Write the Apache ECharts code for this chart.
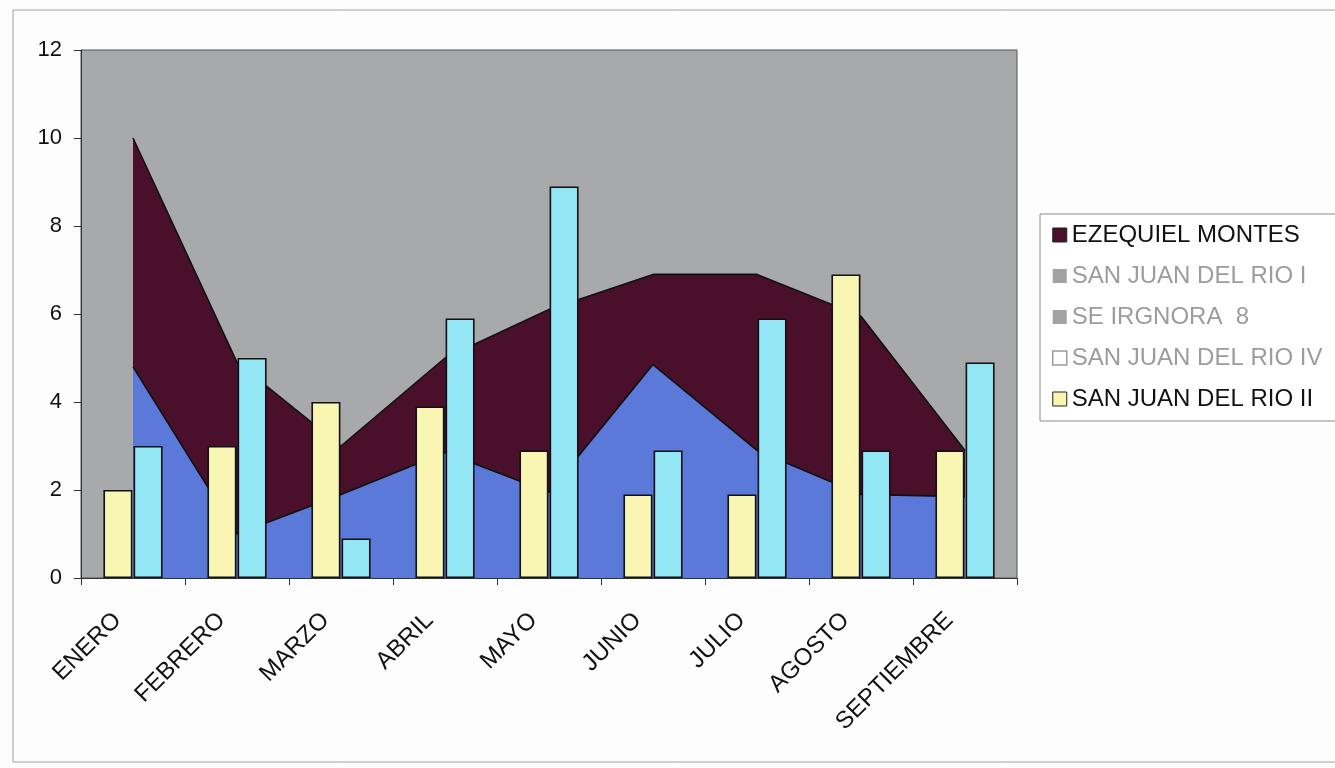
<!DOCTYPE html>
<html>
<head>
<meta charset="utf-8">
<script src="https://cdn.jsdelivr.net/npm/echarts@6/dist/echarts.min.js"></script>
<style>
html,body{margin:0;padding:0;background:#fdfdfd;}
#chart{width:1335px;height:768px;}
</style>
</head>
<body>
<div id="chart"></div>
<script>
var categories = ['ENERO','FEBRERO','MARZO','ABRIL','MAYO','JUNIO','JULIO','AGOSTO','SEPTIEMBRE'];
var ezequielMontes = [10, 4.9, 3.0, 5.0, 6.1, 6.9, 6.9, 5.95, 2.9];
var sanJuanI = [4.8, 1.0, 1.9, 2.85, 1.95, 4.85, 2.9, 1.9, 1.85];
var seIgnora8 = [];
var sanJuanIV = [3, 5, 0.9, 5.9, 8.9, 2.9, 5.9, 2.9, 4.9];
var sanJuanII = [2, 3, 4, 3.9, 2.9, 1.9, 1.9, 6.9, 2.9];
var yTicks = {min: 0, max: 12, interval: 2};

var FONT = '"Liberation Sans", Arial, sans-serif';
var chart = echarts.init(document.getElementById('chart'), null, {renderer: 'canvas'});
chart.setOption({
  backgroundColor: '#fdfdfd',
  animation: false,
  textStyle: {fontFamily: FONT},
  graphic: [
    {type: 'rect', z: -10, shape: {x: 13, y: 10, width: 1400, height: 752},
     style: {fill: 'none', stroke: '#a0a0a0', lineWidth: 1}},
    {type: 'rect', z: -5, shape: {x: 1040, y: 214, width: 400, height: 207},
     style: {fill: '#ffffff', stroke: '#8a8a8a', lineWidth: 1}}
  ],
  grid: {
    left: 81, right: 318, top: 50, bottom: 190,
    show: true, backgroundColor: '#a7a9ab', borderColor: '#555', borderWidth: 1
  },
  legend: {
    orient: 'vertical', left: 1047, top: 218,
    icon: 'rect', itemWidth: 14, itemHeight: 14, itemGap: 17,
    textStyle: {fontSize: 24, lineHeight: 24, fontFamily: FONT, color: '#111'},
    data: [
      {name: 'EZEQUIEL MONTES', itemStyle: {color: '#4a0f2a', borderColor: '#222', borderWidth: 1}, textStyle: {color: '#111'}},
      {name: 'SAN JUAN DEL RIO I', itemStyle: {color: '#a2a2a2', borderWidth: 0}, textStyle: {color: '#9c9c9c'}},
      {name: 'SE IRGNORA  8', itemStyle: {color: '#a2a2a2', borderWidth: 0}, textStyle: {color: '#9c9c9c'}},
      {name: 'SAN JUAN DEL RIO IV', itemStyle: {color: '#ffffff', borderColor: '#9c9c9c', borderWidth: 1.5}, textStyle: {color: '#9c9c9c'}},
      {name: 'SAN JUAN DEL RIO II', itemStyle: {color: '#f9f5b2', borderColor: '#222', borderWidth: 1}, textStyle: {color: '#111'}}
    ]
  },
  xAxis: {
    type: 'category', data: categories, boundaryGap: true,
    axisLine: {show: true, lineStyle: {color: '#333', width: 1}},
    axisTick: {show: true, length: 7, lineStyle: {color: '#333'}},
    axisLabel: {rotate: 45, fontSize: 24, color: '#111', margin: 23, padding: [0, 22, 0, 0], interval: 0, fontFamily: FONT},
    splitLine: {show: false}
  },
  yAxis: {
    type: 'value', min: yTicks.min, max: yTicks.max, interval: yTicks.interval,
    axisLine: {show: true, lineStyle: {color: '#333', width: 1}},
    axisTick: {show: true, length: 7, inside: false, lineStyle: {color: '#333'}},
    axisLabel: {fontSize: 22, color: '#111', margin: 19, fontFamily: FONT},
    splitLine: {show: false}
  },
  series: [
    {name: 'EZEQUIEL MONTES', type: 'line', data: ezequielMontes, z: 2,
     showSymbol: false, symbol: 'none',
     lineStyle: {color: '#111', width: 1.6},
     itemStyle: {color: '#4a0f2a'},
     areaStyle: {color: '#4a0f2a', opacity: 1}},
    {name: 'SAN JUAN DEL RIO I', type: 'line', data: sanJuanI, z: 3,
     showSymbol: false, symbol: 'none',
     lineStyle: {color: '#111', width: 1.6},
     itemStyle: {color: '#5b79d9'},
     areaStyle: {color: '#5b79d9', opacity: 1}},
    {name: 'SE IRGNORA  8', type: 'line', data: seIgnora8, showSymbol: false, symbol: 'none',
     itemStyle: {color: '#a2a2a2'}},
    {name: 'SAN JUAN DEL RIO II', type: 'bar', data: sanJuanII, z: 5,
     barWidth: 29, barGap: '4%',
     itemStyle: {color: '#f9f5b2', borderColor: '#111', borderWidth: 1.6}},
    {name: 'SAN JUAN DEL RIO IV', type: 'bar', data: sanJuanIV, z: 5,
     barWidth: 29, barGap: '4%',
     itemStyle: {color: '#93e7f5', borderColor: '#111', borderWidth: 1.6}}
  ]
});
</script>
</body>
</html>
